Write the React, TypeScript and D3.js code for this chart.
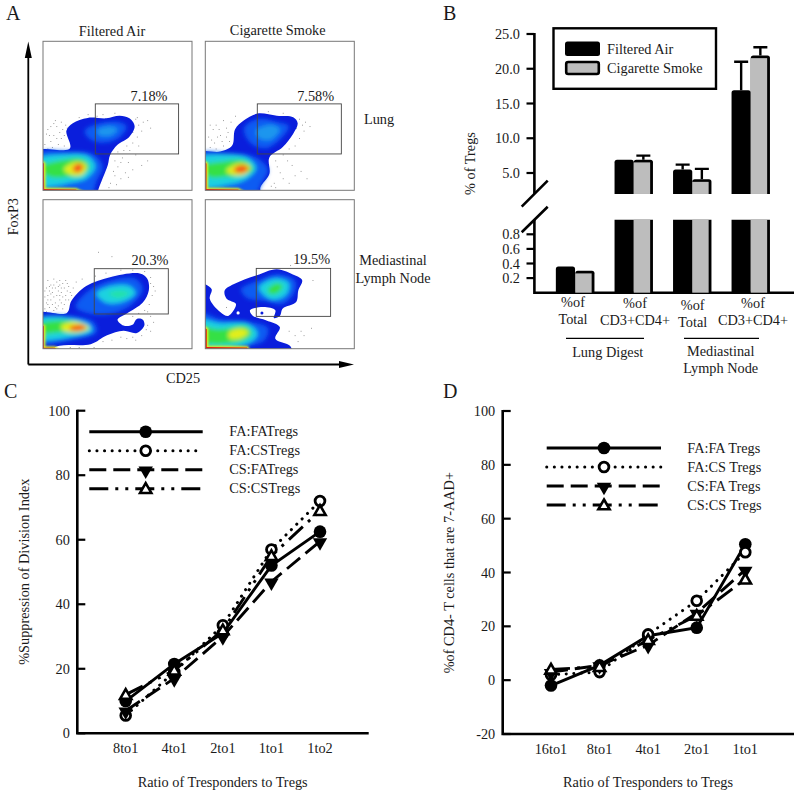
import React from "react";
import * as d3 from "d3";

type P = [number, number];
const SERIF = "'Liberation Serif', serif";
const FS = 14.3;

const c = { blue: "#0a1edc", mid: "#0b5cf2", light: "#1a96ee", cyan: "#1ed2e0", teal: "#22e2a8", green: "#35e045", yellow: "#e2ee1c", orange: "#ff9a08", hot: "#f5561a", red: "#e0200c" };
const lungFAOuter: P[] = [[-5, 26], [18, 28], [15.7, 40], [20, 45], [30, 48.6], [42.5, 48.3], [51.5, 50], [58, 48.3], [61.5, 43], [58, 36], [50, 30.5], [45, 23.6], [43.5, 17], [37, 0], [36, -5], [-5, -5]];
const lungCSOuter: P[] = [[-5, 25], [10, 26], [18, 30], [20, 41], [26, 47], [35, 51.5], [48, 50], [59, 49], [62, 45], [59, 38], [52, 29], [43, 22], [43, 11], [37, 2], [37, -5], [-5, -5]];
const mlnFAOuter: P[] = [[-5, 23.5], [16, 24], [19, 32], [29, 42], [45, 48], [65, 50.5], [70, 47], [71, 39], [67, 31], [56, 23.5], [50, 19.5], [54, 15.5], [60, 16], [63, 20], [67, 19.5], [68, 15.5], [63, 10.5], [54, 12], [43, 9], [32, 3], [11, 2], [-5, -3]];
const mlnCSOuter: P[] = [[-5, 44], [4.2, 40], [3, 33.6], [10, 24.7], [15.4, 22], [20.6, 30], [14.3, 33.6], [13, 39], [20, 43.7], [34.5, 49.3], [48, 53.4], [60, 49.3], [65, 46], [62.4, 39], [61, 31.4], [52, 27], [50, 22], [46, 20.6], [47, 25.8], [39, 28], [30, 25.8], [32, 22], [41, 19], [50, 14.6], [47, 6.7], [57, 1.8], [58, -5], [-5, -5]];

type Layer = { col: keyof typeof c; pts: P[] };
const lungFALayers: Layer[] = [
  { col: "mid", pts: [[28, 40], [38, 45], [50, 46], [56, 43], [52, 36], [42, 32], [32, 34]] },
  { col: "light", pts: [[36, 40], [44, 43], [50, 41], [46, 37], [38, 37]] },
  { col: "mid", pts: [[-5, 24], [18, 26], [34, 24], [40, 16], [36, 6], [32, -3], [-5, -3]] },
  { col: "cyan", pts: [[-5, 20], [14, 24], [30, 23], [35, 16], [29, 8], [18, 5], [8, 3], [-5, 3]] },
  { col: "green", pts: [[-3, 15], [12, 20], [26, 21], [31, 16], [26, 10], [16, 9], [5, 9]] },
  { col: "yellow", pts: [[14, 14], [22, 19], [29, 17], [27, 11], [20, 10]] },
  { col: "hot", pts: [[20, 15], [24, 18], [27, 16], [25, 12.5], [21, 12.5]] },
];
const lungCSLayers: Layer[] = [
  { col: "mid", pts: [[26, 42], [36, 48], [48, 46], [56, 43], [50, 34], [40, 28], [30, 32]] },
  { col: "light", pts: [[34, 40], [44, 44], [50, 41], [44, 34], [36, 35]] },
  { col: "mid", pts: [[-5, 24], [15, 25], [34, 22], [42, 14], [38, 5], [33, -3], [-5, -3]] },
  { col: "cyan", pts: [[-5, 21], [12, 24], [28, 22], [34, 15], [28, 8], [16, 4], [-5, 3]] },
  { col: "green", pts: [[-3, 16], [10, 19], [26, 20], [32, 14], [24, 10], [12, 9], [3, 9]] },
  { col: "yellow", pts: [[14, 13], [22, 18], [30, 16], [27, 11], [20, 10]] },
  { col: "hot", pts: [[19, 14], [24, 17], [29, 15], [26, 12], [21, 12]] },
];
const mlnFALayers: Layer[] = [
  { col: "mid", pts: [[22, 28], [32, 40], [46, 46], [62, 47], [67, 40], [60, 30], [48, 24], [34, 23]] },
  { col: "cyan", pts: [[36, 37], [46, 42], [58, 42], [62, 37], [52, 31], [42, 31]] },
  { col: "teal", pts: [[44, 37], [52, 39], [58, 37], [50, 34]] },
  { col: "mid", pts: [[-5, 20], [18, 22], [34, 18], [36, 11], [20, 6], [-5, 4]] },
  { col: "cyan", pts: [[-5, 19], [14, 21], [30, 17], [33, 12], [20, 8], [-5, 7]] },
  { col: "green", pts: [[-3, 16], [14, 19], [28, 16], [28, 12], [14, 11], [-3, 11]] },
  { col: "yellow", pts: [[12, 15], [22, 18], [31, 14], [24, 11], [14, 12]] },
  { col: "hot", pts: [[18, 14.5], [26, 16], [29, 14], [24, 12], [18, 13]] },
];
const mlnCSLayers: Layer[] = [
  { col: "mid", pts: [[24, 40], [36, 46], [48, 50], [60, 46], [60, 38], [52, 30], [40, 32], [28, 34]] },
  { col: "cyan", pts: [[36, 41], [46, 47], [56, 44], [54, 36], [44, 33]] },
  { col: "green", pts: [[42, 40], [48, 44], [52, 42], [48, 37], [43, 37]] },
  { col: "mid", pts: [[-5, 24], [10, 20], [30, 18], [42, 14], [40, 6], [30, 2], [-5, 0]] },
  { col: "cyan", pts: [[-5, 19], [10, 17], [28, 17], [35, 10], [28, 3], [-5, 2]] },
  { col: "green", pts: [[-3, 14], [10, 13], [27, 15], [31, 10], [24, 5], [-3, 5]] },
  { col: "yellow", pts: [[16, 11], [24, 13.5], [29, 11], [24, 7], [16, 7]] },
];
const lungFARim: P[] = [[-3, -3], [-3, 20], [0.6, 18], [0.8, 0.8], [22, 0.6], [30, -3]];
const lungCSRim: P[] = [[-3, -3], [-3, 20], [0.8, 18], [0.8, 0.8], [22, 0.6], [28, -3]];
const mlnFARim: P[] = [[-3, -3], [-3, 17], [0.6, 15], [0.6, 0.6], [8, 0.6], [12, -3]];
const mlnCSRim: P[] = [[-3, -3], [-3, 16], [1, 13], [1, 1.2], [28, 0.8], [30, -3]];

const lungFADots: P[] = [[3, 28], [5, 33], [2, 38], [7, 37], [10, 31], [12, 35], [5, 43], [9, 43], [13, 41], [15, 44], [8, 47], [12, 46], [3, 41], [14, 30], [1, 31], [62, 48], [64, 44], [66, 40], [63, 36], [60, 32], [56, 30], [67, 46], [70, 47], [72, 42], [54, 27], [50, 26], [48, 20], [50, 16], [53, 22], [57, 19], [60, 14], [62, 24], [48, 10], [45, 5], [52, 8], [55, 12], [44, 2], [66, 17], [70, 20], [40, 51], [48, 52], [30, 51], [24, 49], [6, 29], [9, 35], [4, 37], [11, 39], [7, 45], [14, 37], [16, 42], [60, 39], [64, 30], [58, 27], [52, 19], [47, 13], [49, 4], [57, 9], [63, 49], [36, 50]];
const lungCSDots: P[] = [[3, 29], [6, 32], [2, 36], [8, 36], [11, 33], [14, 36], [5, 41], [9, 41], [14, 42], [17, 46], [12, 47], [3, 44], [16, 33], [20, 50], [63, 48], [65, 44], [67, 46], [70, 43], [66, 40], [63, 35], [60, 30], [56, 28], [52, 24], [55, 20], [58, 17], [50, 12], [52, 8], [46, 5], [48, 16], [60, 10], [64, 13], [68, 8], [47, 2], [56, 5], [42, 53], [52, 52], [7, 28], [10, 37], [4, 34], [12, 30], [7, 44], [15, 39], [61, 42], [47, 20], [44, 3]];
const mlnFADots: P[] = [[2, 25], [4, 28], [7, 26], [10, 29], [13, 27], [2, 31], [5, 33], [8, 31], [11, 33], [14, 30], [17, 33], [3, 36], [6, 38], [9, 36], [12, 38], [15, 36], [18, 38], [2, 41], [5, 43], [8, 41], [11, 43], [14, 41], [17, 42], [20, 41], [3, 46], [7, 47], [11, 46], [15, 46], [22, 45], [26, 47], [35, 49], [42, 51], [52, 53], [60, 53], [68, 52], [72, 48], [74, 42], [73, 36], [71, 30], [68, 26], [64, 24], [60, 22], [72, 22], [70, 16], [72, 12], [66, 9], [60, 8], [52, 8], [46, 6], [40, 5], [34, 1], [24, 1], [18, 1], [37, 65], [46, 62], [1, 27], [3, 30], [6, 30], [9, 27], [12, 31], [15, 33], [1, 35], [4, 39], [7, 35], [10, 39], [13, 35], [16, 39], [1, 39], [4, 42], [7, 43], [10, 42], [13, 44], [16, 44], [19, 36], [5, 37], [8, 28], [11, 36], [3, 33], [6, 41], [9, 45], [12, 41], [72, 44], [75, 39], [70, 25], [74, 18], [69, 13], [62, 6], [56, 7]];
const mlnCSDots: P[] = [[14, 28], [42, 17], [56, 12], [60, 9], [62, 5], [64, 12], [71, 14], [66, 9], [72, 46], [57, 56], [24, 22], [11, 18]];
const speckle = "#666";

const panels = [
  { x0: 43, y0: 41.3, outer: lungFAOuter, layers: lungFALayers, rim: lungFARim, dots: lungFADots, gate: [35.1, 91, 24.4, 58], label: "7.18%", lx: 149, ly: 100.7 },
  { x0: 205.3, y0: 41.3, outer: lungCSOuter, layers: lungCSLayers, rim: lungCSRim, dots: lungCSDots, gate: [34.9, 91.3, 24.4, 58], label: "7.58%", lx: 315.7, ly: 101 },
  { x0: 43, y0: 199.7, outer: mlnFAOuter, layers: mlnFALayers, rim: mlnFARim, dots: mlnFADots, gate: [34.4, 84.1, 23.3, 53.7], label: "20.3%", lx: 150, ly: 265 },
  { x0: 205.3, y0: 199.7, outer: mlnCSOuter, layers: mlnCSLayers, rim: mlnCSRim, dots: mlnCSDots, gate: [34.2, 84.1, 21.7, 53.9], label: "19.5%", lx: 311.7, ly: 264.3 },
];
const PANEL_SIZE = 149;

// Panel B
const barCategories = ["LungTotal", "LungCD", "MLNTotal", "MLNCD"];
const filteredAir = [0.36, 6.9, 5.5, 16.9];
const cigaretteSmoke = [0.3, 6.9, 4.1, 21.9];
const filteredAirErr = [0.36, 6.9, 6.2, 21];
const cigaretteSmokeErr = [0.3, 7.5, 5.6, 23.1];
const upperTicks = [5, 10, 15, 20, 25];
const lowerTicks = [0.2, 0.4, 0.6, 0.8];

// Panel C
const ratiosC = ["8to1", "4to1", "2to1", "1to1", "1to2"];
const faFaC = [10, 21.5, 31, 52, 62.5];
const faCsC = [5.5, 19, 33.5, 57, 72];
const csFaC = [7, 17, 30, 47, 59.5];
const csCsC = [12, 19.5, 32, 55, 69];
const namesC = ["FA:FATregs", "FA:CSTregs", "CS:FATregs", "CS:CSTregs"];
const ticksC = [0, 20, 40, 60, 80, 100];

// Panel D
const ratiosD = ["16to1", "8to1", "4to1", "2to1", "1to1"];
const faFaD = [-2, 5.5, 16.5, 19.5, 50.5];
const faCsD = [2, 3, 17, 29.5, 47.5];
const csFaD = [3, 5.5, 13, 25, 41];
const csCsD = [4, 5, 15, 24, 37.5];
const namesD = ["FA:FA Tregs", "FA:CS Tregs", "CS:FA Tregs", "CS:CS Tregs"];
const ticksD = [-20, 0, 20, 40, 60, 80, 100];

const T = (p: any) => <text fontFamily={SERIF} fontSize={FS} fill="#1a1a1a" {...p} />;

function FlowPanel({ p, i }: { p: (typeof panels)[number]; i: number }) {
  const x = d3.scaleLinear().domain([0, 100]).range([p.x0, p.x0 + PANEL_SIZE]);
  const y = d3.scaleLinear().domain([0, 100]).range([p.y0 + PANEL_SIZE, p.y0]);
  const blob = d3.line<P>().x((d) => x(d[0])).y((d) => y(d[1])).curve(d3.curveCatmullRomClosed.alpha(0.5));
  const poly = d3.line<P>().x((d) => x(d[0])).y((d) => y(d[1]));
  const [gx0, gx1, gy0, gy1] = p.gate;
  return (
    <g>
      <clipPath id={`clip${i}`}><rect x={p.x0} y={p.y0} width={PANEL_SIZE} height={PANEL_SIZE} /></clipPath>
      <rect x={p.x0} y={p.y0} width={PANEL_SIZE} height={PANEL_SIZE} fill="#fff" />
      <g clipPath={`url(#clip${i})`}>
        {p.dots.map((d, k) => <rect key={k} x={x(d[0])} y={y(d[1])} width={0.8} height={0.8} fill={speckle} />)}
        <path d={blob(p.outer)!} fill={c.blue} />
        {i === 3 && <circle cx={x(22)} cy={y(24)} r={1.6} fill="#fff" />}
        {i === 3 && <circle cx={x(38)} cy={y(24)} r={1.5} fill={c.blue} />}
        <g filter="url(#soft)">
          {p.layers.map((l, k) => <path key={k} d={blob(l.pts)!} fill={c[l.col]} />)}
        </g>
        <path d={poly(p.rim)!} fill={c.yellow} stroke={c.yellow} strokeWidth={3} filter="url(#softer)" />
        <path d={poly(p.rim)!} fill={c.red} />
      </g>
      <rect x={p.x0} y={p.y0} width={PANEL_SIZE} height={PANEL_SIZE} fill="none" stroke="#777" strokeWidth={1} />
      <rect x={x(gx0)} y={y(gy1)} width={x(gx1) - x(gx0)} height={y(gy0) - y(gy1)} fill="none" stroke="#444" strokeWidth={0.9} />
      <T x={p.lx} y={p.ly} textAnchor="middle">{p.label}</T>
    </g>
  );
}

function PanelA() {
  return (
    <g>
      <defs>
        <filter id="soft" x="-30%" y="-30%" width="160%" height="160%"><feGaussianBlur stdDeviation={2.2} /></filter>
        <filter id="softer" x="-30%" y="-30%" width="160%" height="160%"><feGaussianBlur stdDeviation={1} /></filter>
      </defs>
      {panels.map((p, i) => <FlowPanel key={i} p={p} i={i} />)}
      <path d="M28.3 364.5V55M28.3 364.5H341" stroke="#000" strokeWidth={1.8} fill="none" />
      <path d="M28.3 41.5L24.8 58H31.8Z M354 364.5L339 361V368Z" fill="#000" />
      <T x={112} y={35.7} textAnchor="middle">Filtered Air</T>
      <T x={277.7} y={34.7} textAnchor="middle">Cigarette Smoke</T>
      <T x={379} y={124} textAnchor="middle">Lung</T>
      <T x={393} y={265} textAnchor="middle">Mediastinal</T>
      <T x={393} y={282.7} textAnchor="middle">Lymph Node</T>
      <T x={183} y={383} textAnchor="middle">CD25</T>
      <T transform="translate(18,216.7) rotate(-90)" textAnchor="middle">FoxP3</T>
      <T x={6} y={19.5} fontSize={20}>A</T>
    </g>
  );
}

const topRound = (l: number, w: number, t: number, b: number, r: number) =>
  `M${l} ${b}V${t + r}Q${l} ${t} ${l + r} ${t}H${l + w - r}Q${l + w} ${t} ${l + w} ${t + r}V${b}Z`;

function PanelB() {
  const yU = d3.scaleLinear().domain([5, 25]).range([173, 34]);
  const yL = d3.scaleLinear().domain([0, 0.8]).range([292.7, 234.3]);
  const xMid = d3.scaleBand().domain(barCategories).range([546, 780]).paddingInner(0);
  const bw = 19.2;
  const bandC = (k: number) => xMid(barCategories[k])! + xMid.bandwidth() / 2;
  const breakLo = 1;
  const breakHi = 1.98;
  const bar = (k: number, v: number, left: number, grey: boolean) => {
    const segs: [number, number, boolean][] =
      v <= breakLo ? [[yL(v), yL(0), true]] : [[yL(breakLo), yL(0), false], [yU(v), yU(breakHi), true]];
    return segs.map(([t, b, capped], s) => (
      <g key={s}>
        <path d={topRound(left, bw, t, b, capped ? 2.5 : 0)} fill="#000" />
        {grey && <rect x={left} y={t + (capped ? 2.6 : 0)} width={bw - 2.8} height={b - t - (capped ? 2.6 : 0)} fill="#bdbdbd" />}
      </g>
    ));
  };
  const err = (xc: number, v: number, top: number) =>
    top > v ? <path d={`M${xc} ${yU(v)}V${yU(top)}M${xc - 7} ${yU(top)}H${xc + 7}`} stroke="#000" strokeWidth={2.4} fill="none" /> : null;
  const xLabels: [string, string, number, number][] = [["%of", "Total", 573, 307], ["%of", "CD3+CD4+", 635, 308], ["%of", "Total", 692.7, 310], ["%of", "CD3+CD4+", 753, 308]];
  return (
    <g>
      <T x={443} y={19.5} fontSize={20}>B</T>
      <path d={`M534.4 ${yU(25) - 1}V194M534.4 220V294`} stroke="#000" strokeWidth={2.6} fill="none" />
      <path d="M534 292.7H794" stroke="#000" strokeWidth={2.6} />
      <path d="M521.7 206.7L547.7 180.7M521.7 232.3L547.7 206.7" stroke="#000" strokeWidth={2.6} />
      {upperTicks.map((t) => (
        <g key={t}>
          <path d={`M526.5 ${yU(t)}H534`} stroke="#000" strokeWidth={2.2} />
          <T x={520} y={yU(t) + 5} textAnchor="end">{t.toFixed(1)}</T>
        </g>
      ))}
      {lowerTicks.map((t) => (
        <g key={t}>
          <path d={`M526.5 ${yL(t)}H534`} stroke="#000" strokeWidth={2.2} />
          <T x={520} y={yL(t) + 5} textAnchor="end">{t.toFixed(1)}</T>
        </g>
      ))}
      {barCategories.map((cat, k) => {
        const m = bandC(k);
        const lf = m - bw - (k === 0 ? 0.2 : 0);
        return (
          <g key={cat}>
            {err(lf + bw / 2, filteredAir[k], filteredAirErr[k])}
            {err(m + bw / 2, cigaretteSmoke[k], cigaretteSmokeErr[k])}
            {bar(k, filteredAir[k], lf, false)}
            {bar(k, cigaretteSmoke[k], m, true)}
          </g>
        );
      })}
      <rect x={553.5} y={28.3} width={162.5} height={60.5} fill="#fff" stroke="#000" strokeWidth={2.4} />
      <rect x={565} y={41.5} width={35} height={14.5} rx={2.5} fill="#000" />
      <rect x={566.2} y={62} width={32.6} height={12} rx={2} fill="#bdbdbd" stroke="#000" strokeWidth={2.6} />
      <T x={607} y={54}>Filtered Air</T>
      <T x={607} y={73}>Cigarette Smoke</T>
      <T transform="translate(475,163.5) rotate(-90)" textAnchor="middle">% of Tregs</T>
      {xLabels.map(([a, b, x, yy], k) => (
        <g key={k}>
          <T x={x} y={yy} textAnchor="middle">{a}</T>
          <T x={x} y={yy + 17} textAnchor="middle">{b}</T>
        </g>
      ))}
      <path d="M566 338.3H644M684 338.3H759" stroke="#000" strokeWidth={1.3} />
      <T x={607.7} y={357} textAnchor="middle">Lung Digest</T>
      <T x={720.7} y={356} textAnchor="middle">Mediastinal</T>
      <T x={720.7} y={372.7} textAnchor="middle">Lymph Node</T>
    </g>
  );
}

const dashes = [undefined, "0.1 7.5", "17 7", "19 7 3 7 3 7"];
const circleP = d3.symbol().type(d3.symbolCircle);
const triP = d3.symbol().type(d3.symbolTriangle);

function Marker({ kind, x, y }: { kind: number; x: number; y: number }) {
  if (kind === 0) return <path transform={`translate(${x},${y})`} d={circleP.size(125)()!} fill="#000" />;
  if (kind === 1) return <path transform={`translate(${x},${y})`} d={circleP.size(75)()!} fill="#fff" stroke="#000" strokeWidth={2.8} />;
  if (kind === 2) return <path transform={`translate(${x},${y}) rotate(180) translate(0,-1)`} d={triP.size(90)()!} fill="#000" />;
  return <path transform={`translate(${x},${y}) translate(0,1)`} d={triP.size(55)()!} fill="#fff" stroke="#000" strokeWidth={2.6} />;
}

function LineChart({ letter, lx, axisX, xEnd, yScale, ticks, cats, xs, series, names, title, titleX, labelY, yTitle, yTitleX, yTitleY, legend }: any) {
  const x = d3.scalePoint<string>().domain(cats).range(xs);
  const line = d3.line<number>().x((_, i) => x(cats[i])!).y((v) => yScale(v));
  const bottom = yScale.range()[0];
  const top = yScale.range()[1];
  return (
    <g>
      <T x={lx} y={398} fontSize={20}>{letter}</T>
      <path d={`M${axisX} ${top - 1}V${bottom}H${xEnd}`} stroke="#000" strokeWidth={2.6} fill="none" />
      {ticks.map((t: number) => (
        <g key={t}>
          <path d={`M${axisX} ${yScale(t)}H${axisX + 8}`} stroke="#000" strokeWidth={2.2} />
          <T x={axisX - 7.5} y={yScale(t) + 5} textAnchor="end">{t}</T>
        </g>
      ))}
      {cats.map((cat: string) => <T key={cat} x={x(cat)} y={labelY} textAnchor="middle">{cat}</T>)}
      <T x={titleX} y={786.7} textAnchor="middle">{title}</T>
      <T transform={`translate(${yTitleX},${yTitleY}) rotate(-90)`} textAnchor="middle">{yTitle}</T>
      {series.map((s: number[], k: number) => (
        <path key={k} d={line(s)!} fill="none" stroke="#000" strokeWidth={k === 1 ? 3 : 2.9} strokeDasharray={dashes[k]} strokeLinecap={k === 1 ? "round" : "butt"} />
      ))}
      {series.map((s: number[], k: number) => s.map((v, i) => <Marker key={`${k}-${i}`} kind={k} x={x(cats[i])!} y={yScale(v)} />))}
      {names.map((n: string, k: number) => {
        const ly = legend.y + k * 19;
        return (
          <g key={n}>
            <path d={`M${legend.x0} ${ly}H${legend.x1}`} stroke="#000" strokeWidth={k === 1 ? 3 : 2.9} strokeDasharray={dashes[k]} strokeLinecap={k === 1 ? "round" : "butt"} fill="none" />
            <Marker kind={k} x={legend.xm} y={ly} />
            <T x={legend.xt} y={ly + 4.5}>{n}</T>
          </g>
        );
      })}
    </g>
  );
}

export default function App() {
  const yC = d3.scaleLinear().domain([0, 100]).range([733.3, 410.7]);
  const yD = d3.scaleLinear().domain([-20, 100]).range([734, 411]);
  return (
    <svg width={800} height={795} style={{ position: "absolute", left: 0, top: 0, background: "#fff" }}>
      <PanelA />
      <PanelB />
      <LineChart letter="C" lx={4} axisX={77.3} xEnd={368.7} yScale={yC} ticks={ticksC} cats={ratiosC} xs={[125.7, 320]}
        series={[faFaC, faCsC, csFaC, csCsC]} names={namesC} title="Ratio of Tresponders to Tregs" titleX={222.7} labelY={753.3}
        yTitle="%Suppression of Division Index" yTitleX={29} yTitleY={571.7}
        legend={{ x0: 89.3, x1: 202.7, xm: 145.7, xt: 229.3, y: 431.7 }} />
      <LineChart letter="D" lx={443} axisX={502.7} xEnd={794} yScale={yD} ticks={ticksD} cats={ratiosD} xs={[551, 745.3]}
        series={[faFaD, faCsD, csFaD, csCsD]} names={namesD} title="Ratio of Tresponders to Tregs" titleX={648} labelY={754}
        yTitle="%of CD4- T cells that are 7-AAD+" yTitleX={454} yTitleY={572.7}
        legend={{ x0: 546.7, x1: 661, xm: 604, xt: 687.3, y: 448 }} />
    </svg>
  );
}
